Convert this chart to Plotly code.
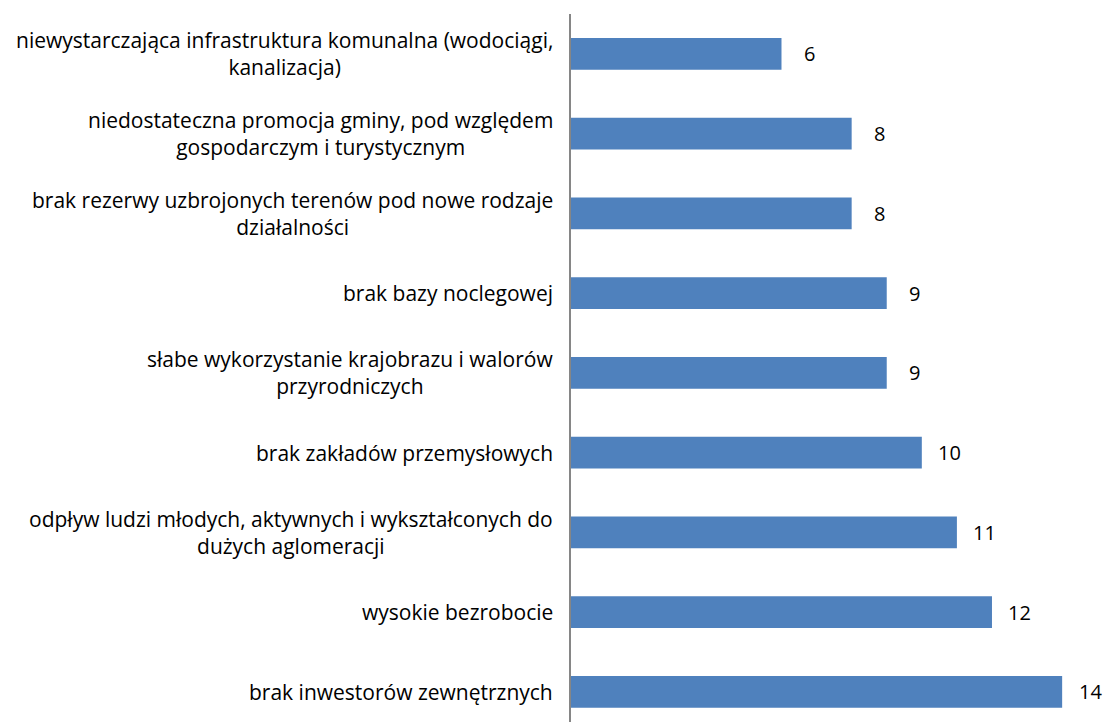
import plotly.graph_objects as go

# Problem categories (top to bottom) and number of responses
categories = [
    "niewystarczająca infrastruktura komunalna (wodociągi,<br>kanalizacja)",
    "niedostateczna promocja gminy, pod względem<br>gospodarczym i turystycznym",
    "brak rezerwy uzbrojonych terenów pod nowe rodzaje<br>działalności",
    "brak bazy noclegowej",
    "słabe wykorzystanie krajobrazu i walorów<br>przyrodniczych",
    "brak zakładów przemysłowych",
    "odpływ ludzi młodych, aktywnych i wykształconych do<br>dużych aglomeracji",
    "wysokie bezrobocie",
    "brak inwestorów zewnętrznych",
]
values = [6, 8, 8, 9, 9, 10, 11, 12, 14]

FONT = "Open Sans, Calibri, sans-serif"
BAR_COLOR = "#4F81BD"

fig = go.Figure(
    go.Bar(
        x=values,
        y=categories,
        orientation="h",
        marker=dict(color=BAR_COLOR, line=dict(width=0)),
        width=0.4,
        hoverinfo="skip",
    )
)

annotations = []
# Category labels, centred lines, placed left of the axis
for cat in categories:
    annotations.append(dict(
        x=0, y=cat, xref="paper", yref="y",
        text=cat, showarrow=False,
        xanchor="right", yanchor="middle", align="center",
        xshift=-16,
        font=dict(family=FONT, size=21, color="#000000"),
    ))
# Value labels beyond the bar ends
for cat, v in zip(categories, values):
    annotations.append(dict(
        x=v, y=cat, xref="x", yref="y",
        text=str(v), showarrow=False,
        xanchor="center", yanchor="middle",
        xshift=28,
        font=dict(family=FONT, size=20, color="#000000"),
    ))

fig.update_layout(
    width=1106, height=722,
    margin=dict(l=571, r=0, t=14, b=0, pad=0),
    paper_bgcolor="white", plot_bgcolor="white",
    showlegend=False,
    annotations=annotations,
    xaxis=dict(range=[0, 15.25], showgrid=False, zeroline=False,
               showticklabels=False, showline=False, ticks=""),
    yaxis=dict(type="category", range=[8.378, -0.5], showgrid=False,
               zeroline=False, showticklabels=False, ticks="",
               showline=True, linecolor="#868686", linewidth=2),
)

fig.write_html("out.html")
